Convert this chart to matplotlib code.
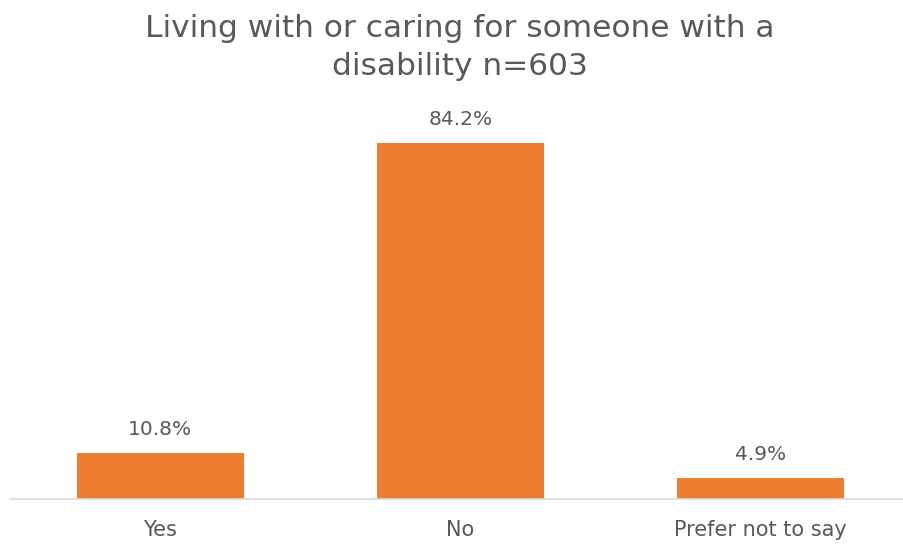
import matplotlib.pyplot as plt

categories = ["Yes", "No", "Prefer not to say"]
values = [10.8, 84.2, 4.9]
title = "Living with or caring for someone with a\ndisability n=603"

text_color = "#595959"
bar_color = "#ED7D31"

plt.rcParams["font.family"] = ["DejaVu Sans"]

fig = plt.figure(figsize=(9.04, 5.44), dpi=100)
ax = fig.add_axes([10 / 904, 45 / 544, 901 / 904, 378 / 544])

x = range(len(categories))
bars = ax.bar(x, values, width=0.556, color=bar_color, zorder=2)
for rect, v in zip(bars, values):
    ax.annotate(f"{v:.1f}%", (rect.get_x() + rect.get_width() / 2, v),
                xytext=(0, 10), textcoords="offset points",
                ha="center", va="bottom", fontsize=14.5, color=text_color)

ax.set_xlim(-0.5, 2.5)
ax.set_ylim(0, 89.3)
ax.set_xticks(list(x))
ax.set_xticklabels(categories, fontsize=15, color=text_color)
ax.tick_params(axis="x", length=0, pad=15)
ax.set_yticks([])
for side in ["top", "right", "left"]:
    ax.spines[side].set_visible(False)
ax.spines["bottom"].set_color("#D9D9D9")
ax.spines["bottom"].set_linewidth(1.2)

fig.text(0.509, 0.974, title, ha="center", va="top", fontsize=22.5,
         color=text_color, linespacing=1.4)

fig.savefig("out.png", dpi=100)
